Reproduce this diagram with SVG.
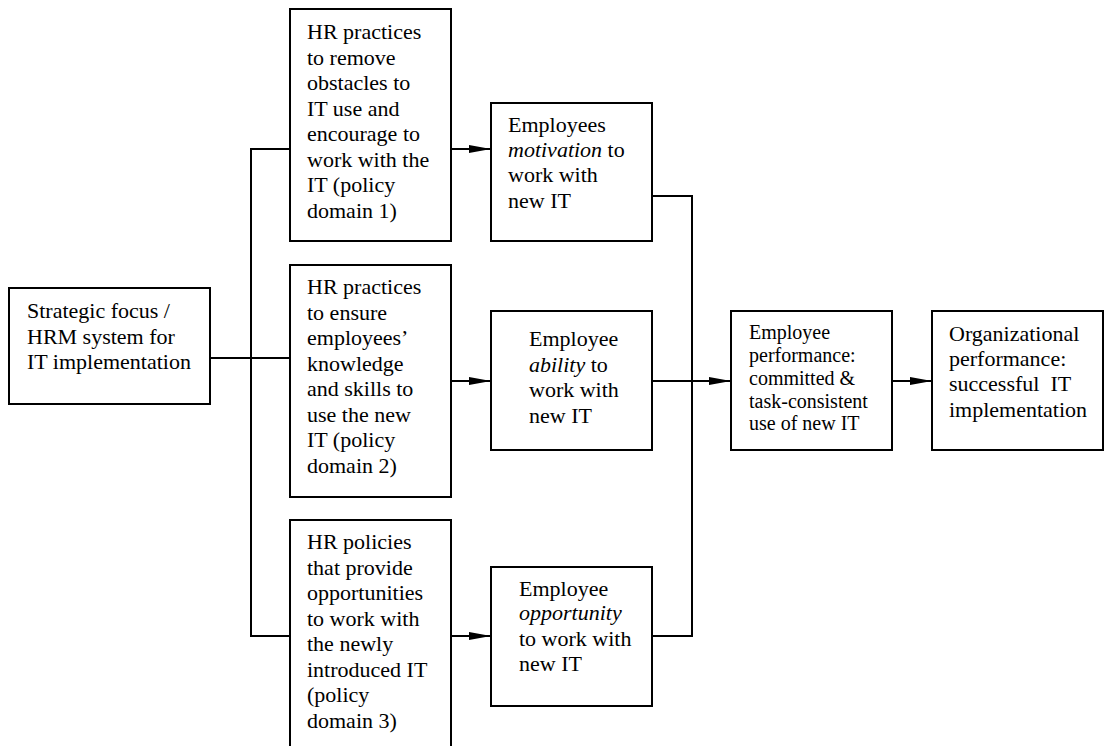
<svg xmlns="http://www.w3.org/2000/svg" width="1105" height="746" viewBox="0 0 1105 746">
<defs>
<style>
rect.box{fill:#fff;stroke:#000;stroke-width:2}
text{font-family:'Liberation Serif','Times New Roman',Times,'DejaVu Serif',serif;fill:#000}
.t{font-size:22px}
.s{font-size:20px}
.c{fill:none;stroke:#000;stroke-width:2}
.i{font-style:italic}
</style>
<marker id="ah" markerUnits="userSpaceOnUse" markerWidth="22" markerHeight="10" refX="22" refY="5" orient="auto">
<path d="M0,1 L22,5 L0,9 Z" fill="#000"/>
</marker>
</defs>
<rect width="1105" height="746" fill="#fff"/>
<g id="connectors">
<polyline class="c" points="210,358 290,358"/>
<polyline class="c" points="290,149 251,149 251,636 290,636"/>
<line class="c" x1="451" y1="149" x2="491" y2="149" marker-end="url(#ah)"/>
<line class="c" x1="451" y1="381" x2="491" y2="381" marker-end="url(#ah)"/>
<line class="c" x1="451" y1="636" x2="491" y2="636" marker-end="url(#ah)"/>
<polyline class="c" points="652,196 692,196 692,636 652,636"/>
<line class="c" x1="652" y1="381" x2="731" y2="381" marker-end="url(#ah)"/>
<line class="c" x1="892" y1="381" x2="932" y2="381" marker-end="url(#ah)"/>
</g>
<g id="strategic">
<rect class="box" x="9" y="288" width="201" height="116"/>
<text class="t" font-family="Liberation Serif, serif"><tspan x="27" y="318">Strategic focus /</tspan><tspan x="27" y="344">HRM system for</tspan><tspan x="27" y="369">IT implementation</tspan></text>
</g>
<g id="hr1">
<rect class="box" x="290" y="9" width="161" height="232"/>
<text class="t"><tspan x="307" y="39">HR practices</tspan><tspan x="307" y="64.5">to remove</tspan><tspan x="307" y="90">obstacles to</tspan><tspan x="307" y="115.5">IT use and</tspan><tspan x="307" y="141">encourage to</tspan><tspan x="307" y="166.5">work with the</tspan><tspan x="307" y="192">IT (policy</tspan><tspan x="307" y="217.5">domain 1)</tspan></text>
</g>
<g id="hr2">
<rect class="box" x="290" y="265" width="161" height="232"/>
<text class="t"><tspan x="307" y="294">HR practices</tspan><tspan x="307" y="319.5">to ensure</tspan><tspan x="307" y="345">employees’</tspan><tspan x="307" y="370.5">knowledge</tspan><tspan x="307" y="396">and skills to</tspan><tspan x="307" y="421.5">use the new</tspan><tspan x="307" y="447">IT (policy</tspan><tspan x="307" y="472.5">domain 2)</tspan></text>
</g>
<g id="hr3">
<rect class="box" x="290" y="520" width="161" height="240"/>
<text class="t"><tspan x="307" y="549">HR policies</tspan><tspan x="307" y="574.5">that provide</tspan><tspan x="307" y="600">opportunities</tspan><tspan x="307" y="625.5">to work with</tspan><tspan x="307" y="651">the newly</tspan><tspan x="307" y="676.5">introduced IT</tspan><tspan x="307" y="702">(policy</tspan><tspan x="307" y="727.5">domain 3)</tspan></text>
</g>
<g id="motivation">
<rect class="box" x="491" y="103" width="161" height="138"/>
<text class="t"><tspan x="508" y="132">Employees</tspan><tspan x="508" y="157"><tspan class="i">motivation</tspan> to</tspan><tspan x="508" y="182">work with</tspan><tspan x="508" y="208">new IT</tspan></text>
</g>
<g id="ability">
<rect class="box" x="491" y="311" width="161" height="139"/>
<text class="t"><tspan x="529" y="346">Employee</tspan><tspan x="529" y="371.5"><tspan class="i">ability</tspan> to</tspan><tspan x="529" y="397">work with</tspan><tspan x="529" y="422.5">new IT</tspan></text>
</g>
<g id="opportunity">
<rect class="box" x="491" y="567" width="161" height="139"/>
<text class="t"><tspan x="519" y="596">Employee</tspan><tspan x="519" y="620" class="i">opportunity</tspan><tspan x="519" y="645.5">to work with</tspan><tspan x="519" y="671">new IT</tspan></text>
</g>
<g id="employee-performance">
<rect class="box" x="731" y="311" width="161" height="139"/>
<text class="s"><tspan x="749" y="339">Employee</tspan><tspan x="749" y="362">performance:</tspan><tspan x="749" y="385">committed &amp;</tspan><tspan x="749" y="407.5">task-consistent</tspan><tspan x="749" y="430">use of new IT</tspan></text>
</g>
<g id="organizational-performance">
<rect class="box" x="932" y="311" width="171" height="139"/>
<text class="t" style="white-space:pre"><tspan x="949" y="341">Organizational</tspan><tspan x="949" y="366">performance:</tspan><tspan x="949" y="391">successful  IT</tspan><tspan x="949" y="417">implementation</tspan></text>
</g>
</svg>
